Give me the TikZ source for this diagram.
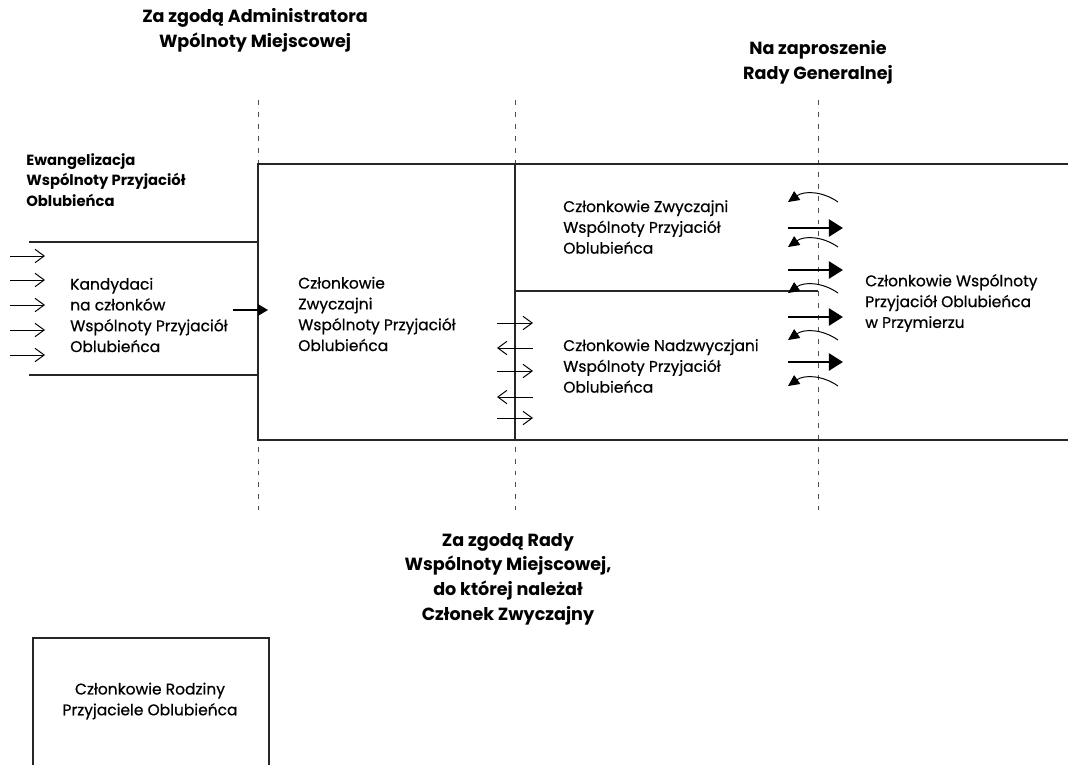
\documentclass[tikz,border=0pt]{standalone}
\usepackage{fontspec}
\setmainfont{Poppins}[UprightFeatures={FakeBold=0.6}]
\usetikzlibrary{arrows.meta}

\begin{document}
\begin{tikzpicture}[
    x=0.025cm, y=-0.025cm,
    divider/.style={line width=0.6pt, draw=black!70, dash pattern=on 3.5pt off 5pt},
    border/.style={line width=0.9pt, draw=black!85},
    thinarrow/.style={line width=0.7pt, -{Straight Barb[length=6.5pt,width=9.5pt]}},
    midarrow/.style={line width=0.9pt, -{Triangle[length=7pt,width=8pt]}},
    bigarrow/.style={line width=2pt, -{Triangle[length=10pt,width=12pt]}},
    backarrow/.style={line width=0.7pt, -{Triangle[length=8pt,width=7.5pt]}},
    header/.style={font=\fontsize{12.5}{17.5}\selectfont\bfseries, align=center},
    boxtext/.style={font=\fontsize{11}{14.8}\selectfont, align=left, anchor=west, inner sep=0pt}
]
\useasboundingbox (0,0) rectangle (1068,765);

% Dashed dividers
\foreach \x in {258,515,818}
  \draw[divider] (\x,100) -- (\x,510);

% Frames
\draw[border] (1068,164) -- (258,164) -- (258,440) -- (1068,440);
\draw[border] (515,164) -- (515,440);
\draw[border] (515,291) -- (818,291);
\draw[border] (29,242) -- (258,242);
\draw[border] (29,375) -- (258,375);
\draw[border] (33,765) -- (33,638) -- (269,638) -- (269,765);

% Arrows
\foreach \y in {256,280,305,330,355}
  \draw[thinarrow] (10,\y) -- (45,\y);
\draw[midarrow] (233,310) -- (268,310);
\foreach \y in {323,371,418}
  \draw[thinarrow] (497,\y) -- (533,\y);
\foreach \y in {348,397}
  \draw[thinarrow] (533,\y) -- (497,\y);
\foreach \y in {228,270,317,362}
  \draw[bigarrow] (788,\y) -- (843,\y);
\foreach \y in {202,247,293,340,386}
  \draw[backarrow] (838,\y) to[bend right=35] (788,\y);

% Headers
\node[header] (admin) at (255,30) {Za zgodą Administratora\\Wpólnoty Miejscowej};
\node[header] (general) at (818,62) {Na zaproszenie\\Rady Generalnej};
\node[header] (council) at (508,579) {Za zgodą Rady\\Wspólnoty Miejscowej,\\do której należał\\Członek Zwyczajny};

% Groups
\node[boxtext, font=\fontsize{10.5}{14.8}\selectfont\bfseries] (evang) at (26,180) {Ewangelizacja\\Wspólnoty Przyjaciół\\Oblubieńca};
\node[boxtext] (cand) at (70,315) {Kandydaci\\na członków\\Wspólnoty Przyjaciół\\Oblubieńca};
\node[boxtext] (ordin) at (298,314) {Członkowie\\Zwyczajni\\Wspólnoty Przyjaciół\\Oblubieńca};
\node[boxtext] (ordup) at (563,227) {Członkowie Zwyczajni\\Wspólnoty Przyjaciół\\Oblubieńca};
\node[boxtext] (extra) at (563,366) {Członkowie Nadzwyczjani\\Wspólnoty Przyjaciół\\Oblubieńca};
\node[boxtext] (covenant) at (865,303) {Członkowie Wspólnoty\\Przyjaciół Oblubieńca\\w Przymierzu};
\node[boxtext, anchor=center, align=center] (family) at (150,701) {Członkowie Rodziny\\Przyjaciele Oblubieńca};

\end{tikzpicture}
\end{document}
